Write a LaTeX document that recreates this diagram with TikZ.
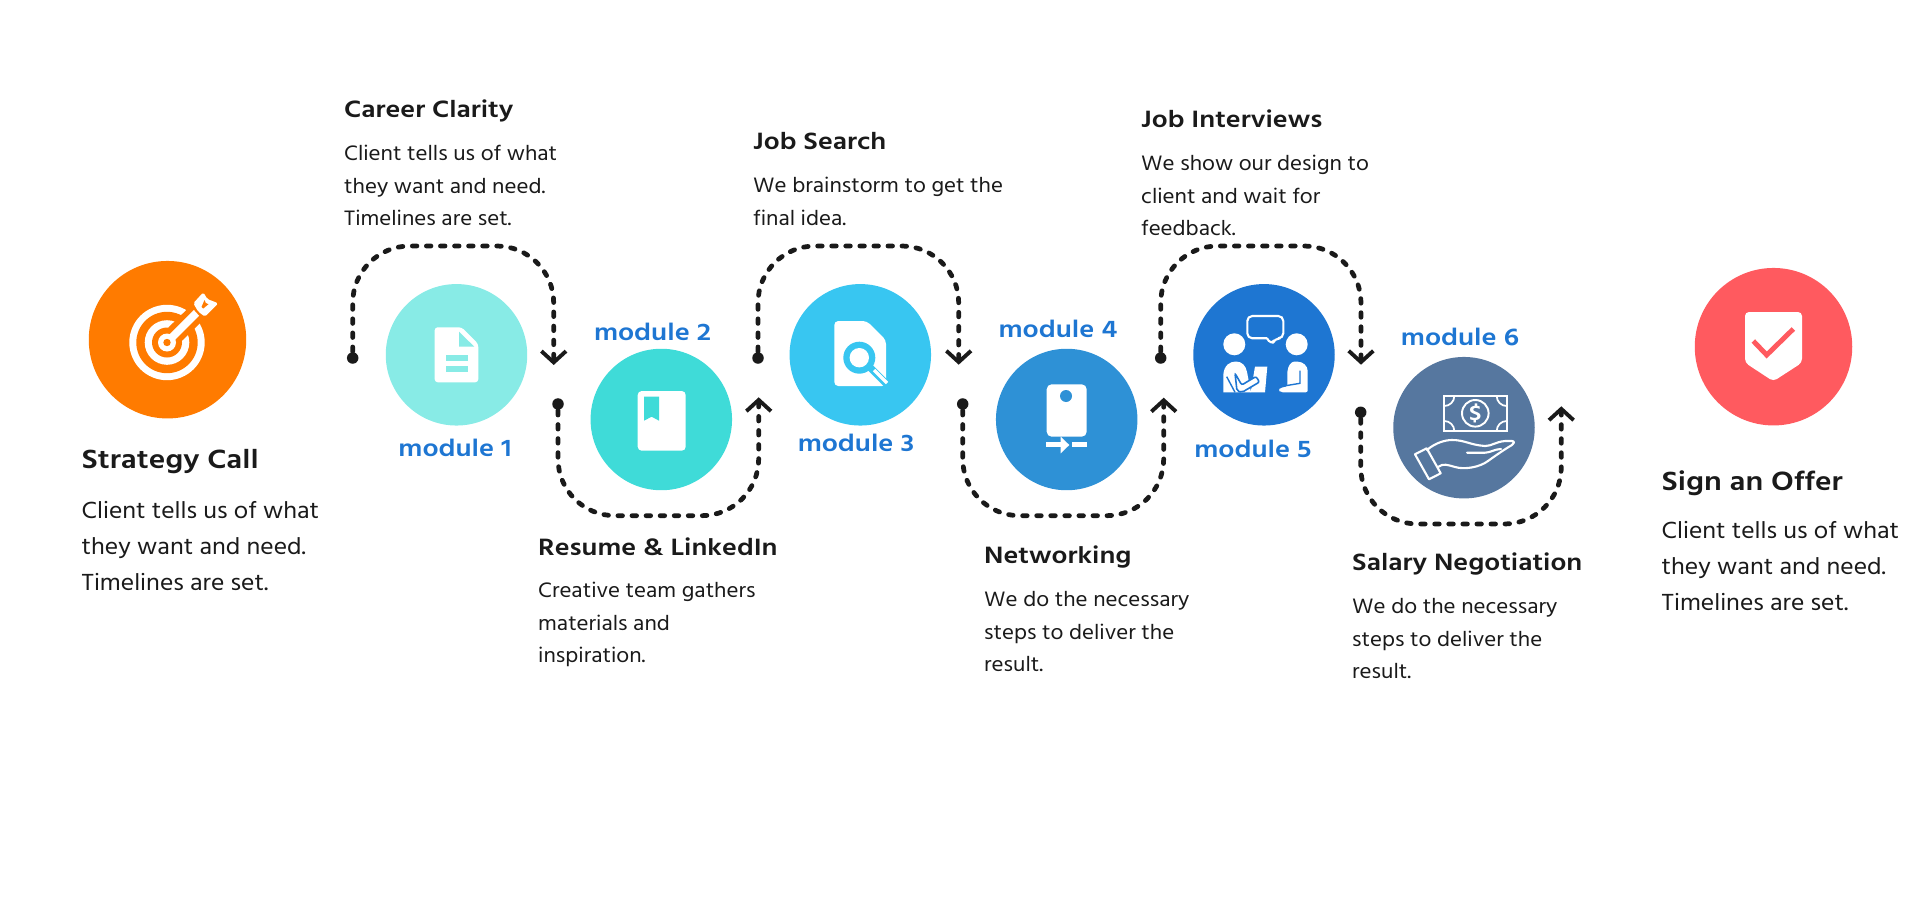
\documentclass[tikz,border=0pt]{standalone}
\usepackage{fontspec}
\setmainfont{Hind Madurai}[FakeStretch=1.07,BoldFeatures={FakeStretch=1.16}]
\usepackage{tikz}
\usetikzlibrary{arrows.meta}
\definecolor{encre}{HTML}{1A1A1A}
\definecolor{bleutexte}{HTML}{1E76D2}
\definecolor{orangevif}{HTML}{FF7B00}
\definecolor{menthe}{HTML}{88EBE6}
\definecolor{turquoise}{HTML}{3FDBD8}
\definecolor{ciel}{HTML}{38C6F1}
\definecolor{bleumoyen}{HTML}{2E91D6}
\definecolor{bleuvif}{HTML}{1E76D2}
\definecolor{ardoise}{HTML}{56779F}
\definecolor{rouge}{HTML}{FF5A5F}
\tikzset{
  rond/.style={circle,inner sep=0pt,minimum size=1.414cm},
  grandrond/.style={circle,inner sep=0pt,minimum size=1.574cm},
  point/.style={circle,fill=encre,inner sep=0pt,minimum size=0.115cm},
  lien/.style={draw=encre,line width=1.35pt,line cap=round,dash pattern=on 1.3pt off 2.7pt,
               rounded corners=0.57cm,-{Straight Barb[length=0.01pt,width=0.01pt,line width=0.01pt,sep=3.5pt] Straight Barb[length=3.2pt,width=7pt,line width=1.1pt]}},
  titre/.style={anchor=base west,inner sep=0pt,text=encre,font=\fontsize{6.9}{8}\selectfont\bfseries},
  grandtitre/.style={titre,font=\fontsize{7.7}{9}\selectfont\bfseries},
  corps/.style={anchor=north west,inner sep=0pt,align=left,text=encre,font=\fontsize{6.1}{9.25}\selectfont},
  grandcorps/.style={corps,font=\fontsize{6.8}{10.3}\selectfont},
  module/.style={anchor=base,inner sep=0pt,text=bleutexte,font=\fontsize{7}{8}\selectfont\bfseries},
}
\begin{document}
\begin{tikzpicture}[x=0.01cm,y=-0.01cm]
  \useasboundingbox (0,0) rectangle (1920,915);
  % circles
  \node[grandrond,fill=orangevif] (depart) at (167.5,339.7) {};
  \node[rond,fill=menthe] (m1) at (456.5,354.8) {};
  \node[rond,fill=turquoise] (m2) at (661.3,419.5) {};
  \node[rond,fill=ciel] (m3) at (860.3,354.8) {};
  \node[rond,fill=bleumoyen] (m4) at (1066.7,419.5) {};
  \node[rond,fill=bleuvif] (m5) at (1264,354.8) {};
  \node[rond,fill=ardoise] (m6) at (1464,427.7) {};
  \node[grandrond,fill=rouge] (fin) at (1773.5,346.7) {};
  % connectors
  \node[point] (d1) at (352.7,358) {};
  \node[point] (d2) at (558,404) {};
  \node[point] (d3) at (758,358) {};
  \node[point] (d4) at (962.7,404) {};
  \node[point] (d5) at (1160.7,358) {};
  \node[point] (d6) at (1360.7,412.3) {};
  \coordinate (f1) at (553.7,365);
  \coordinate (f2) at (758.7,397.3);
  \coordinate (f3) at (958.7,364.7);
  \coordinate (f4) at (1163.7,397.7);
  \coordinate (f5) at (1361,364.7);
  \coordinate (f6) at (1561.3,406.3);
  \draw[lien] (d1) -- ++(0,-112) -| (f1);
  \draw[lien] (d2) -- ++(0,111.7) -| (f2);
  \draw[lien] (d3) -- ++(0,-112) -| (f3);
  \draw[lien] (d4) -- ++(0,111.7) -| (f4);
  \draw[lien] (d5) -- ++(0,-112) -| (f5);
  \draw[lien] (d6) -- ++(0,111.7) -| (f6);
  % target
  \fill[white] (167,342.5) circle (37.7);
  \fill[orangevif] (167,342.5) circle (30.7);
  \fill[white] (167,342.5) circle (22.3);
  \fill[orangevif] (167,342.5) circle (15);
  \draw[orangevif,line width=5.4pt] (175,334.3) -- (201.7,308.3);
  \fill[white] (167,342.5) circle (9);
  \draw[white,line width=2.2pt] (170,339.3) -- (197,312.3);
  \fill[orangevif] (167,342.5) circle (3.7);
  \fill[orangevif] (188,303.3) -- (203.3,286) -- (212,295) -- (224,303.3) -- (205,322) -- cycle;
  \fill[white,rounded corners=0.5pt] (193.3,303.3) -- (203.3,292.3) -- (207.3,299) -- (218.3,303.3) -- (205,316.7) -- (198.3,311.7) -- cycle;
  \fill[orangevif] (204.5,300) -- (205.8,303) -- (208.5,304.2) -- (203.3,308.5) -- (201.5,307) -- cycle;
  % document
  \fill[white,rounded corners=0.03cm] (434.7,327.3) -- (461.7,327.3) -- (478.3,344) -- (478.3,382.3) -- (434.7,382.3) -- cycle;
  \fill[menthe] (459,331.7) -- (459,346.7) -- (474.3,346.7) -- cycle;
  \fill[menthe] (445.7,355) rectangle (467.7,360.7);
  \fill[menthe] (445.7,366) rectangle (467.7,371.7);
  % book
  \fill[white,rounded corners=0.04cm] (637.7,391) rectangle (685.7,450.7);
  \fill[turquoise] (644,396.7) -- (659,396.7) -- (659,420.7) -- (651.7,416.7) -- (644,420.7) -- cycle;
  % search
  \fill[white,rounded corners=0.04cm] (834.3,321) -- (866.7,321) -- (886,340) -- (886,386) -- (834.3,386) -- cycle;
  \draw[ciel,line width=2pt] (870,367.3) -- (890,387.3);
  \draw[white,line width=1pt] (874,370) -- (887,383);
  \fill[ciel] (859.3,357.7) circle (16);
  \fill[white] (859.3,357.7) circle (9.7);
  % device
  \fill[white,rounded corners=0.05cm] (1046.7,384.3) rectangle (1086.7,436.7);
  \fill[bleumoyen] (1066,396) circle (6);
  \fill[white] (1046,442.3) rectangle (1063.3,447.3);
  \fill[white] (1060.7,436.7) -- (1069.3,445) -- (1060.7,453.3) -- cycle;
  \fill[white] (1072.3,442.3) rectangle (1086.7,447.3);
  % people
  \draw[white,line width=0.6pt,rounded corners=0.05cm,line join=round] (1267,338.3) -- (1247.3,338.3) -- (1247.3,316) -- (1283.3,316) -- (1283.3,338.3) -- (1275,338.3) -- (1271.7,345) -- (1267,338.3);
  \fill[white] (1234.3,344.3) circle (11);
  \fill[white] (1296.7,344.3) circle (11);
  \fill[white] (1223.3,392.3) -- (1223.3,375) .. controls (1224,365) and (1230,361.5) .. (1236,361.5) .. controls (1242,361.5) and (1246,366) .. (1247,372) -- (1251,392.3) -- cycle;
  \fill[white] (1255,366.7) -- (1267.3,366.7) -- (1265,392.3) -- (1250.7,392.3) -- cycle;
  \draw[bleuvif,line width=0.4pt] (1226.7,376.7) -- (1235,392.3);
  \draw[bleuvif,line width=0.45pt,fill=white,rounded corners=0.02cm] (1235,373.3) -- (1241.7,385) -- (1256,376.5) -- (1259.5,382) -- (1242,392.3) -- (1237,391) -- cycle;
  \fill[white,rounded corners=0.02cm] (1287.3,386.7) -- (1287.3,373.3) .. controls (1288,366) and (1291,361.7) .. (1296,361.7) .. controls (1303,361.7) and (1307.7,366) .. (1307.7,373) -- (1307.7,392.3) -- (1280.7,392.3) -- (1278.3,390) -- (1280.7,387.7) -- cycle;
  \draw[bleuvif,line width=0.4pt] (1300,370.7) -- (1300,383.3) -- (1284,386);
  % money
  \draw[white,line width=0.6pt] (1444.3,396) rectangle (1506.7,431);
  \begin{scope}
    \clip (1444.3,396) rectangle (1506.7,431);
    \draw[white,line width=0.5pt] (1444.3,396) circle (10) (1506.7,396) circle (10) (1444.3,431) circle (10) (1506.7,431) circle (10);
  \end{scope}
  \draw[white,line width=0.55pt] (1475.3,413.3) circle (13.3);
  \node[inner sep=0pt,text=white,font=\fontsize{6}{6}\selectfont\bfseries] (dollar) at (1475.3,413.3) {\$};
  \draw[white,line width=0.6pt,line join=round] (1415,454.3) -- (1426.7,448.3) -- (1440.7,473.3) -- (1429,479.3) -- cycle;
  \draw[white,line width=0.6pt,line join=round,line cap=round] (1427,450) .. controls (1435,443) and (1445,440) .. (1452,440) .. controls (1465,440) and (1470,445) .. (1485,446)
    .. controls (1492,446) and (1495,442) .. (1505,441) -- (1512,441) .. controls (1515,441) and (1514,444) .. (1512,445) .. controls (1505,449) and (1495,456) .. (1488,461) .. controls (1480,467) and (1465,470) .. (1455,467) .. controls (1448,465) and (1443,463) .. (1438,467);
  \draw[white,line width=0.6pt,line cap=round] (1467,452.7) -- (1485,452.7) .. controls (1490,452.7) and (1495,449) .. (1501,449);
  % shield
  \fill[white,rounded corners=0.04cm] (1745,312) -- (1802,312) -- (1802,362.7) -- (1773.3,381.3) -- (1745,362.7) -- cycle;
  \draw[rouge,line width=1.4pt] (1753.3,341) -- (1766.7,355) -- (1793.3,329);
  % texts
  \node[grandtitre] (t0) at (81,468) {Strategy Call};
  \node[grandcorps] (c0) at (81,500.5) {Client tells us of what\\they want and need.\\Timelines are set.};
  \node[titre] (t1) at (343.5,117.6) {Career Clarity};
  \node[corps] (c1) at (343.5,144.5) {Client tells us of what\\they want and need.\\Timelines are set.};
  \node[titre] (t2) at (537.5,555) {Resume \& LinkedIn};
  \node[corps] (c2) at (537.5,581.5) {Creative team gathers\\materials and\\inspiration.};
  \node[titre] (t3) at (752.5,149.4) {Job Search};
  \node[corps] (c3) at (752.5,176.5) {We brainstorm to get the\\final idea.};
  \node[titre] (t4) at (983.5,563) {Networking};
  \node[corps] (c4) at (983.5,591) {We do the necessary\\steps to deliver the\\result.};
  \node[titre] (t5) at (1140.5,127) {Job Interviews};
  \node[corps] (c5) at (1140.5,154.5) {We show our design to\\client and wait for\\feedback.};
  \node[titre] (t6) at (1351.5,570.6) {Salary Negotiation};
  \node[corps] (c6) at (1351.5,598) {We do the necessary\\steps to deliver the\\result.};
  \node[grandtitre] (t7) at (1661,490) {Sign an Offer};
  \node[grandcorps] (c7) at (1661,520.5) {Client tells us of what\\they want and need.\\Timelines are set.};
  \node[module] (l1) at (455,456.7) {module 1};
  \node[module] (l2) at (652.6,340) {module 2};
  \node[module] (l3) at (856,451.7) {module 3};
  \node[module] (l4) at (1058,337.7) {module 4};
  \node[module] (l5) at (1253,457) {module 5};
  \node[module] (l6) at (1460,345) {module 6};
\end{tikzpicture}
\end{document}
